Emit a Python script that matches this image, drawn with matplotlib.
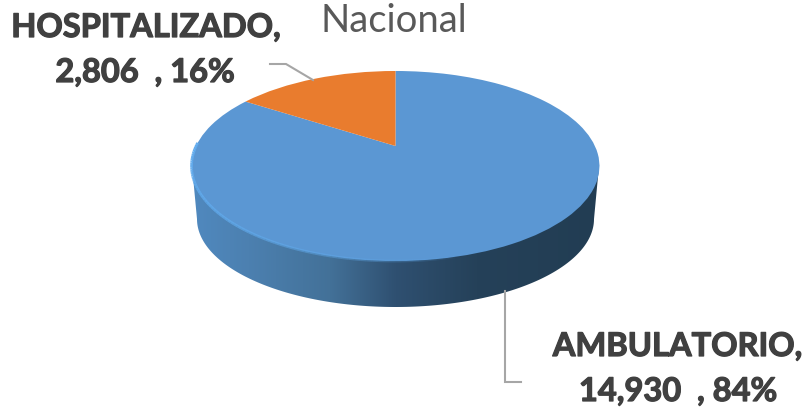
import numpy as np
import matplotlib
matplotlib.use("Agg")
import matplotlib.pyplot as plt
import matplotlib.patheffects as pe
from matplotlib.colors import LinearSegmentedColormap, to_rgb
from matplotlib.collections import LineCollection
from matplotlib.patches import Polygon
from matplotlib.transforms import Transform

categories = ["AMBULATORIO", "HOSPITALIZADO"]
values = [14930, 2806]
percents = ["84%", "16%"]
value_labels = ["14,930", "2,806"]
colors = ["#5B97D3", "#E97C2E"]
title = "Nacional"

plt.rcParams["font.family"] = ["Lato", "DejaVu Sans"]


class Persp(Transform):
    """Tilted-disc projection of the unit pie onto figure pixels."""
    input_dims = output_dims = 2

    def transform_non_affine(self, xy):
        xy = np.asarray(xy, dtype=float)
        w = 1 + 0.2105 * xy[:, 1]
        return np.column_stack([395.5 + 199.4 * xy[:, 0] / w,
                                147.0 - 90.8 * xy[:, 1] / w])


fig = plt.figure(figsize=(8.07, 4.10), dpi=100, facecolor="white")
ax = fig.add_axes([0, 0, 1, 1])

wedges, _ = ax.pie(values, colors=colors, startangle=90, counterclock=False,
                   wedgeprops={"linewidth": 0})
for w in wedges:
    w.set_zorder(4)
    w.set_transform(Persp() + ax.transData)
    w.set_clip_on(False)

# Side wall of the disc with a horizontal shading
t = np.linspace(np.pi, 2 * np.pi, 200)
wall = np.column_stack([395.5 + 198.5 * np.cos(t), 220 - 88 * np.sin(t)])
wall = np.vstack([[192, 167], wall, [599, 167]])
cmap = LinearSegmentedColormap.from_list("wall", [
    (0.00, "#5089BF"), (0.14, "#4C80B0"), (0.34, "#437198"),
    (0.50, "#2F5071"), (0.70, "#254159"), (1.00, "#223D53")])
img = ax.imshow(np.linspace(0, 1, 256)[None, :], cmap=cmap, aspect="auto",
                extent=(191, 600, 312, 160), zorder=2)
clip = Polygon(wall, closed=True, transform=ax.transData, fc="none", ec="none")
ax.add_patch(clip)
img.set_clip_path(clip)

# Light rim along the lower-left of the top face
a = np.radians(np.linspace(178, 285, 80))
pts = Persp().transform_non_affine(np.column_stack([np.cos(a), np.sin(a)]))
segs = np.stack([pts[:-1], pts[1:]], axis=1)
alpha = np.linspace(1, 0, len(segs)) ** 0.7
rim = np.array(to_rgb("#62ACEE"))
ax.add_collection(LineCollection(segs, colors=[(*rim, x) for x in alpha],
                                 linewidths=2.0, zorder=5))

# Leader lines
ax.plot([270, 286, 313], [65, 65, 81], color="#A6A6A6", lw=1.5, zorder=6,
        solid_joinstyle="miter")
ax.plot([505, 505, 521], [292, 383, 383], color="#A6A6A6", lw=1.5, zorder=3,
        solid_joinstyle="miter")

# Text
ax.text(394, 32, title, ha="center", va="baseline", fontsize=27.5, color="#595959")
heavy = [pe.withStroke(linewidth=0.9, foreground="#404040")]
lab = {"fontsize": 23.5, "fontweight": "bold", "color": "#404040",
       "ha": "center", "va": "baseline", "path_effects": heavy}
ax.text(146, 38, categories[1] + ",", **lab)
ax.text(145, 83, f"{value_labels[1]}  , {percents[1]}", **lab)
ax.text(677.5, 357, categories[0] + ",", **lab)
ax.text(678, 402, f"{value_labels[0]}  , {percents[0]}", **lab)

ax.set_aspect("auto")
ax.set_xlim(0, 807)
ax.set_ylim(410, 0)
ax.axis("off")
fig.savefig("out.png", dpi=100)
